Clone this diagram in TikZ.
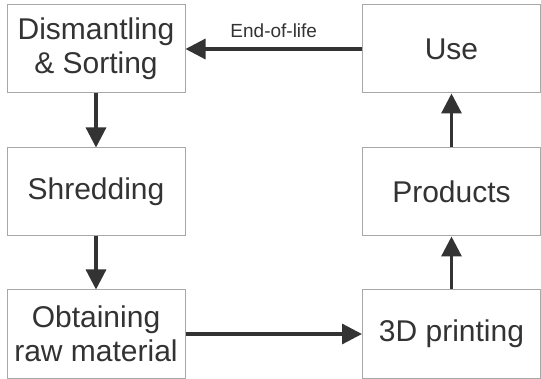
\documentclass[tikz,border=0pt]{standalone}
\usepackage{fontspec}
\setmainfont{Liberation Sans}
\usetikzlibrary{arrows.meta}
\definecolor{boxline}{HTML}{A8A8A8}
\definecolor{ink}{HTML}{333333}
\tikzset{
  stagebox/.style={draw=boxline, line width=1pt, fill=white, minimum width=178pt, minimum height=88pt,
    inner sep=0pt, align=center, text=ink, font=\fontsize{30}{34}\selectfont},
  flow/.style={draw=ink, line width=3.2pt, -{Triangle[length=20pt,width=20pt]}}
}
\begin{document}
\begin{tikzpicture}[x=1pt,y=-1pt]
\useasboundingbox (0,0) rectangle (541,379);
\node[stagebox] (dis) at (96,49) {Dismantling\\\& Sorting};
\node[stagebox] (shr) at (96,192) {Shredding};
\node[stagebox] (obt) at (96,334) {Obtaining\\raw material};
\node[stagebox] (use) at (451.5,49) {Use};
\node[stagebox] (pro) at (451.5,192) {Products};
\node[stagebox] (pri) at (451.5,334) {3D printing};
\draw[flow] (use) -- node[midway, above=10pt, inner sep=0pt, text=ink, font=\fontsize{19}{22}\selectfont] (eol) {End-of-life} (dis);
\draw[flow] (dis) -- (shr);
\draw[flow] (shr) -- (obt);
\draw[flow] (obt) -- (pri);
\draw[flow] (pri) -- (pro);
\draw[flow] (pro) -- (use);
\end{tikzpicture}
\end{document}
